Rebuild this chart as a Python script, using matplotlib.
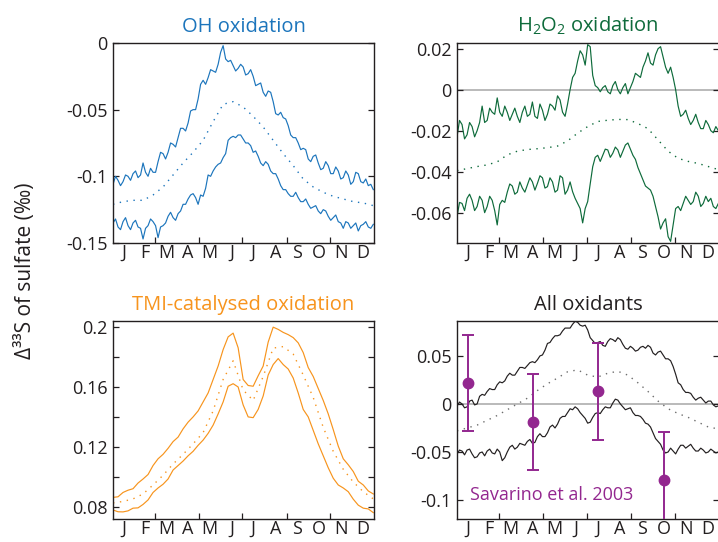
import numpy as np
import matplotlib
matplotlib.use('Agg')
import matplotlib.pyplot as plt

plt.rcParams['font.family'] = ['Open Sans', 'DejaVu Sans']
plt.rcParams['mathtext.default'] = 'regular'
plt.rcParams['axes.unicode_minus'] = False

#Day-of-year grids (half-weekly for the noisy bands, weekly for TMI, fortnightly for the dotted means)
days_hw = [i * 3.5 for i in range(105)]
days_wk = list(range(0, 365, 7))
days_2wk = list(range(0, 365, 14))

month_labels = ['J', 'F', 'M', 'A', 'M', 'J', 'J', 'A', 'S', 'O', 'N', 'D']
month_mid = [15, 45, 74, 105, 135, 166, 196, 227, 258, 288, 319, 349]
month_ticks = [59, 120, 181, 243, 304]

#OH oxidation
oh_upper = [-0.106, -0.100, -0.103, -0.107, -0.104, -0.099, -0.100, -0.103, -0.098, -0.096,
            -0.101, -0.099, -0.090, -0.097, -0.100, -0.094, -0.097, -0.097, -0.089, -0.082,
            -0.083, -0.087, -0.082, -0.075, -0.076, -0.078, -0.071, -0.064, -0.064, -0.066,
            -0.060, -0.051, -0.050, -0.050, -0.042, -0.031, -0.028, -0.031, -0.026, -0.020,
            -0.021, -0.022, -0.016, -0.007, -0.002, -0.012, -0.014, -0.013, -0.017, -0.021,
            -0.019, -0.016, -0.018, -0.024, -0.023, -0.020, -0.025, -0.032, -0.031, -0.030,
            -0.037, -0.040, -0.036, -0.037, -0.044, -0.053, -0.054, -0.052, -0.056, -0.057,
            -0.062, -0.069, -0.071, -0.071, -0.075, -0.080, -0.079, -0.080, -0.087, -0.089,
            -0.085, -0.084, -0.090, -0.095, -0.094, -0.089, -0.092, -0.098, -0.098, -0.093,
            -0.096, -0.102, -0.101, -0.096, -0.099, -0.106, -0.104, -0.097, -0.098, -0.104,
            -0.105, -0.102, -0.107, -0.106, -0.110]
oh_lower = [-0.135, -0.132, -0.138, -0.140, -0.134, -0.131, -0.137, -0.140, -0.135, -0.133,
            -0.138, -0.139, -0.147, -0.139, -0.137, -0.132, -0.134, -0.137, -0.146, -0.138,
            -0.137, -0.135, -0.130, -0.127, -0.131, -0.133, -0.128, -0.126, -0.121, -0.121,
            -0.117, -0.114, -0.113, -0.116, -0.121, -0.114, -0.115, -0.109, -0.099, -0.100,
            -0.096, -0.093, -0.091, -0.090, -0.086, -0.083, -0.073, -0.071, -0.070, -0.071,
            -0.069, -0.069, -0.072, -0.075, -0.075, -0.077, -0.082, -0.081, -0.085, -0.090,
            -0.092, -0.089, -0.091, -0.096, -0.098, -0.098, -0.102, -0.107, -0.110, -0.110,
            -0.113, -0.115, -0.115, -0.112, -0.116, -0.119, -0.119, -0.117, -0.121, -0.124,
            -0.123, -0.122, -0.126, -0.128, -0.125, -0.126, -0.130, -0.133, -0.131, -0.129,
            -0.134, -0.135, -0.139, -0.134, -0.135, -0.139, -0.137, -0.135, -0.141, -0.137,
            -0.136, -0.134, -0.138, -0.139, -0.136]
oh_mean = [-0.121, -0.119, -0.118, -0.118, -0.114, -0.108, -0.099, -0.090, -0.082, -0.073,
           -0.059, -0.046, -0.044, -0.048, -0.055, -0.063, -0.073, -0.083, -0.092, -0.102,
           -0.108, -0.112, -0.115, -0.117, -0.119, -0.120, -0.122]

#H2O2 oxidation
h2o2_upper = [-0.023, -0.015, -0.017, -0.024, -0.022, -0.016, -0.018, -0.023, -0.020, -0.016,
              -0.008, -0.016, -0.015, -0.009, -0.011, -0.012, -0.004, -0.011, -0.013, -0.008,
              -0.011, -0.015, -0.012, -0.009, -0.013, -0.016, -0.011, -0.008, -0.013, -0.012,
              -0.006, -0.013, -0.014, -0.007, -0.010, -0.015, -0.012, -0.007, -0.008, -0.010,
              -0.003, -0.005, -0.011, -0.013, -0.007, 0.000, 0.006, 0.008, 0.014, 0.019,
              0.017, 0.012, 0.022, 0.021, 0.007, 0.002, 0.001, -0.001, 0.001, 0.002,
              -0.001, -0.002, 0.002, 0.004, 0.000, -0.002, 0.001, 0.003, -0.002, 0.001,
              0.004, 0.008, 0.007, 0.006, 0.011, 0.014, 0.018, 0.013, 0.012, 0.017,
              0.020, 0.021, 0.016, 0.011, 0.008, 0.011, 0.006, 0.000, -0.008, -0.013,
              -0.012, -0.010, -0.014, -0.017, -0.015, -0.012, -0.016, -0.019, -0.019, -0.015,
              -0.017, -0.020, -0.021, -0.018, -0.020]
h2o2_lower = [-0.062, -0.055, -0.0555, -0.059, -0.053, -0.051, -0.054, -0.059, -0.057, -0.052,
              -0.054, -0.060, -0.057, -0.052, -0.054, -0.059, -0.066, -0.056, -0.054, -0.055,
              -0.050, -0.046, -0.047, -0.051, -0.050, -0.045, -0.048, -0.050, -0.0465, -0.043,
              -0.045, -0.049, -0.0457, -0.042, -0.043, -0.048, -0.0473, -0.043, -0.045, -0.050,
              -0.049, -0.042, -0.043, -0.051, -0.049, -0.045, -0.0498, -0.053, -0.0555, -0.058,
              -0.065, -0.058, -0.0546, -0.046, -0.0376, -0.033, -0.032, -0.035, -0.032, -0.029,
              -0.0294, -0.033, -0.031, -0.028, -0.0294, -0.033, -0.030, -0.027, -0.026, -0.029,
              -0.032, -0.034, -0.038, -0.041, -0.044, -0.047, -0.048, -0.049, -0.052, -0.057,
              -0.062, -0.068, -0.065, -0.063, -0.0717, -0.074, -0.066, -0.058, -0.057, -0.059,
              -0.0555, -0.052, -0.054, -0.056, -0.0546, -0.050, -0.052, -0.057, -0.0555, -0.052,
              -0.0546, -0.053, -0.057, -0.058, -0.0555]
h2o2_mean = [-0.0395, -0.0385, -0.0375, -0.0367, -0.0352, -0.0318, -0.030, -0.0292, -0.0288, -0.0283,
             -0.0275, -0.025, -0.0212, -0.018, -0.0155, -0.0149, -0.0145, -0.0146, -0.0165, -0.019,
             -0.0245, -0.030, -0.0335, -0.035, -0.036, -0.0375, -0.039]

#TMI-catalysed oxidation (weekly)
tmi_upper = [0.0862, 0.0866, 0.0895, 0.0910, 0.0920, 0.0958, 0.0985, 0.1015, 0.1075, 0.1120,
             0.1150, 0.1190, 0.1235, 0.1265, 0.1320, 0.1365, 0.1400, 0.1440, 0.1500, 0.1560,
             0.1650, 0.1740, 0.1850, 0.1935, 0.1960, 0.1862, 0.1650, 0.1610, 0.1605, 0.1675,
             0.1740, 0.1900, 0.2000, 0.1985, 0.1965, 0.1950, 0.1930, 0.1895, 0.1830, 0.1730,
             0.1670, 0.1590, 0.1510, 0.1420, 0.1315, 0.1205, 0.1120, 0.1080, 0.1035, 0.0970,
             0.0945, 0.0905, 0.0885]
tmi_lower = [0.0778, 0.0766, 0.0765, 0.0772, 0.0790, 0.0792, 0.0815, 0.0845, 0.0895, 0.0925,
             0.0950, 0.0985, 0.1045, 0.1075, 0.1105, 0.1140, 0.1170, 0.1210, 0.1245, 0.1290,
             0.1345, 0.1420, 0.1500, 0.1605, 0.1622, 0.1600, 0.1480, 0.1400, 0.1395, 0.1450,
             0.1540, 0.1680, 0.1750, 0.1790, 0.1750, 0.1720, 0.1660, 0.1560, 0.1450, 0.1400,
             0.1310, 0.1220, 0.1140, 0.1060, 0.0990, 0.0945, 0.0925, 0.0900, 0.0850, 0.0810,
             0.0790, 0.0785, 0.0760]
tmi_mean = [0.0825, 0.0835, 0.0852, 0.0885, 0.0945, 0.1010, 0.1085, 0.1150, 0.1220, 0.1295,
            0.1440, 0.1650, 0.1775, 0.1580, 0.1510, 0.1670, 0.1860, 0.1870, 0.1820, 0.1680,
            0.1530, 0.1330, 0.1170, 0.1050, 0.0965, 0.0900, 0.0852]

#All oxidants
all_upper = [-0.002, 0.002, 0.000, -0.004, -0.003, 0.003, 0.004, -0.001, 0.000, 0.008,
             0.010, 0.009, 0.013, 0.016, 0.015, 0.015, 0.020, 0.023, 0.022, 0.024,
             0.029, 0.032, 0.030, 0.030, 0.034, 0.038, 0.038, 0.037, 0.040, 0.043,
             0.044, 0.043, 0.046, 0.050, 0.051, 0.056, 0.063, 0.064, 0.068, 0.071,
             0.071, 0.072, 0.076, 0.079, 0.079, 0.079, 0.083, 0.086, 0.085, 0.082,
             0.081, 0.082, 0.077, 0.069, 0.066, 0.063, 0.064, 0.065, 0.061, 0.060,
             0.065, 0.068, 0.067, 0.065, 0.069, 0.067, 0.062, 0.058, 0.057, 0.060,
             0.058, 0.055, 0.056, 0.059, 0.060, 0.058, 0.061, 0.059, 0.053, 0.051,
             0.054, 0.055, 0.051, 0.047, 0.047, 0.045, 0.039, 0.031, 0.022, 0.020,
             0.015, 0.012, 0.012, 0.011, 0.007, 0.004, 0.006, 0.007, 0.004, 0.001,
             0.003, 0.003, -0.001, -0.003, -0.002]
all_lower = [-0.052, -0.048, -0.049, -0.053, -0.048, -0.047, -0.052, -0.056, -0.055, -0.051,
             -0.050, -0.054, -0.049, -0.047, -0.051, -0.052, -0.047, -0.050, -0.059, -0.056,
             -0.050, -0.045, -0.043, -0.047, -0.045, -0.041, -0.042, -0.043, -0.039, -0.037,
             -0.041, -0.040, -0.034, -0.031, -0.034, -0.034, -0.030, -0.024, -0.022, -0.025,
             -0.021, -0.015, -0.013, -0.013, -0.009, -0.005, -0.006, -0.003, -0.005, -0.009,
             -0.012, -0.015, -0.020, -0.019, -0.014, -0.010, -0.009, -0.010, -0.006, -0.003,
             -0.004, -0.004, 0.001, 0.005, 0.004, 0.000, -0.003, -0.006, -0.005, -0.004,
             -0.009, -0.012, -0.012, -0.013, -0.016, -0.020, -0.021, -0.024, -0.030, -0.036,
             -0.039, -0.042, -0.048, -0.051, -0.050, -0.046, -0.049, -0.052, -0.047, -0.043,
             -0.043, -0.046, -0.044, -0.042, -0.046, -0.049, -0.049, -0.046, -0.048, -0.051,
             -0.050, -0.047, -0.049, -0.051, -0.050]
all_mean = [-0.028, -0.025, -0.022, -0.017, -0.012, -0.006, 0.000, 0.006, 0.014, 0.021,
            0.027, 0.0335, 0.0355, 0.030, 0.028, 0.032, 0.034, 0.030, 0.022, 0.013,
            0.003, -0.005, -0.010, -0.014, -0.019, -0.024, -0.026]

#Savarino et al. 2003 observations
sav_days = [15, 106, 197, 288]
sav_vals = [0.022, -0.019, 0.013, -0.079]
sav_err = [0.050, 0.050, 0.050, 0.050]

text_col = '#231f20'


def make_panel(ax, xs, upper, lower, mean, colour, title, ylim, yticks, ylabels,
               mean_col=None, zero_line=False):
    '''Draws one panel: upper and lower model lines plus a dotted mean.'''
    if zero_line:
        ax.axhline(0, color='#a7a7a7', lw=1.1, zorder=1)
    ax.plot(xs, upper, color=colour, lw=0.85, zorder=2)
    ax.plot(xs, lower, color=colour, lw=0.85, zorder=2)
    ax.plot(days_2wk, mean, color=mean_col or colour, lw=1.0,
            linestyle=(0, (1, 4)), zorder=2)

    ax.set_xlim(0, 365)
    ax.set_ylim(*ylim)
    ax.set_yticks(yticks)
    ax.set_yticklabels(ylabels)

    #Month letters sit on minor ticks, the tick marks are every other month
    ax.set_xticks(month_ticks)
    ax.set_xticklabels([])
    ax.set_xticks(month_mid, minor=True)
    ax.set_xticklabels(month_labels, minor=True)

    ax.tick_params(axis='both', which='major', direction='in', length=4,
                   width=0.9, labelsize=13, colors=text_col, pad=4, right=True)
    ax.tick_params(axis='x', which='minor', length=0, labelsize=13,
                   colors=text_col, pad=0.5)
    for s in ax.spines.values():
        s.set_color(text_col)
        s.set_linewidth(1.0)

    ax.set_title(title, color=colour, fontsize=14.5, pad=8)


fig = plt.figure(figsize=(7.18, 5.42), dpi=100)

ax_oh = fig.add_axes([0.1574, 0.5517, 0.3635, 0.369])
ax_h2 = fig.add_axes([0.6365, 0.5517, 0.3650, 0.369])
ax_tmi = fig.add_axes([0.1574, 0.0420, 0.3635, 0.366])
ax_all = fig.add_axes([0.6365, 0.0420, 0.3650, 0.366])

make_panel(ax_oh, days_hw, oh_upper, oh_lower, oh_mean, '#1c75bc', 'OH oxidation',
           (-0.15, 0.0), [-0.15, -0.1, -0.05, 0], ['-0.15', '-0.1', '-0.05', '0'])

make_panel(ax_h2, days_hw, h2o2_upper, h2o2_lower, h2o2_mean, '#0e6b3b', 'H$_2$O$_2$ oxidation',
           (-0.0748, 0.0228), [-0.06, -0.04, -0.02, 0, 0.02],
           ['-0.06', '-0.04', '-0.02', '0', '0.02'], zero_line=True)

make_panel(ax_tmi, days_wk, tmi_upper, tmi_lower, tmi_mean, '#f7941d', 'TMI-catalysed oxidation',
           (0.0716, 0.2042), [0.08, 0.10, 0.12, 0.14, 0.16, 0.18, 0.20],
           ['0.08', '', '0.12', '', '0.16', '', '0.2'])

make_panel(ax_all, days_hw, all_upper, all_lower, all_mean, '#231f20', 'All oxidants',
           (-0.12, 0.0865), [-0.1, -0.05, 0, 0.05], ['-0.1', '-0.05', '0', '0.05'],
           mean_col='#6d6d6d', zero_line=True)

#Observations on the last panel
sav_col = '#93278f'
ax_all.errorbar(sav_days, sav_vals, yerr=sav_err, fmt='o', color=sav_col, ms=7.5,
                capsize=4, elinewidth=1.4, capthick=1.4, zorder=5)
ax_all.text(0.05, 0.095, 'Savarino et al. 2003', transform=ax_all.transAxes,
            color=sav_col, fontsize=13, va='baseline', ha='left')

fig.text(0.036, 0.5, 'Δ³³S of sulfate (‰)', rotation=90, va='center', ha='center',
         fontsize=15, color=text_col)

fig.savefig('out.png', dpi=100)
